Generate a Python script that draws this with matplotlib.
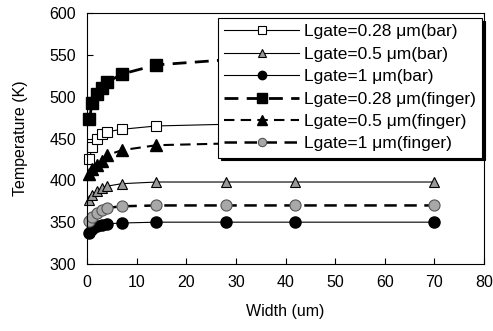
import numpy as np
import matplotlib
matplotlib.use("Agg")
import matplotlib.pyplot as plt

plt.rcParams["font.family"] = ["Liberation Sans", "DejaVu Sans"]

# 資料
width = [0.5, 1, 2, 3, 4, 7, 14, 28, 42, 70]
bar_028 = [425, 440, 449, 455, 458, 461, 465, 467, 468, 468]
bar_05 = [376, 382, 387, 391, 393, 396, 398, 398, 398, 398]
bar_1 = [337, 342, 345, 347, 348, 349, 350, 350, 350, 350]
finger_028 = [473, 492, 503, 510, 517, 527, 538, 544, 546, 547]
finger_05 = [408, 413, 418, 423, 430, 436, 442, 444, 445, 445]
finger_1 = [351, 356, 361, 364, 367, 369, 370, 370, 370, 370]

labels = [
    "Lgate=0.28 \u03bcm(bar)",
    "Lgate=0.5 \u03bcm(bar)",
    "Lgate=1 \u03bcm(bar)",
    "Lgate=0.28 \u03bcm(finger)",
    "Lgate=0.5 \u03bcm(finger)",
    "Lgate=1 \u03bcm(finger)",
]

fig = plt.figure(figsize=(4.93, 3.31), dpi=100)
ax = fig.add_axes([0.1765, 0.2024, 0.8053, 0.7583])

dash = (0, (5, 3))
ax.plot(width, bar_028, color="black", lw=0.8, marker="s", ms=7,
        mfc="white", mec="black", mew=0.8, label=labels[0], clip_on=False)
ax.plot(width, bar_05, color="black", lw=0.8, marker="^", ms=7,
        mfc="#999999", mec="black", mew=0.8, label=labels[1], clip_on=False)
ax.plot(width, bar_1, color="black", lw=0.8, marker="o", ms=8,
        mfc="black", mec="black", label=labels[2], clip_on=False)
ax.plot(width, finger_028, color="black", lw=2.0, ls=dash, marker="s", ms=9,
        mfc="black", mec="black", label=labels[3], clip_on=False)
ax.plot(width, finger_05, color="black", lw=1.5, ls=dash, marker="^", ms=9,
        mfc="black", mec="black", label=labels[4], clip_on=False)
ax.plot(width, finger_1, color="black", lw=1.8, ls=dash, marker="o", ms=8,
        mfc="#a8a8a8", mec="#555555", mew=0.8, label=labels[5], clip_on=False)

ax.set_xlim(0, 80)
ax.set_ylim(300, 600)
ax.set_xticks(np.arange(0, 81, 10))
ax.set_yticks(np.arange(300, 601, 50))
ax.tick_params(direction="in", length=4, width=0.8, labelsize=11.5, pad=8)
for s in ax.spines.values():
    s.set_linewidth(0.8)

ax.set_xlabel("Width (um)", fontsize=11.5, labelpad=10)
ax.set_ylabel("Temperature (K)", fontsize=11.5, labelpad=15)

leg = ax.legend(loc="upper right", bbox_to_anchor=(0.995, 0.98), fontsize=12.5,
                frameon=True, fancybox=False, framealpha=1, edgecolor="black",
                shadow={"color": "black", "alpha": 1}, handlelength=4.3,
                handletextpad=0.3, labelspacing=0.42, borderpad=0.35,
                borderaxespad=0, markerscale=0.75)
leg.get_frame().set_linewidth(0.8)
leg.set_zorder(5)

fig.savefig("out.png", dpi=100)
